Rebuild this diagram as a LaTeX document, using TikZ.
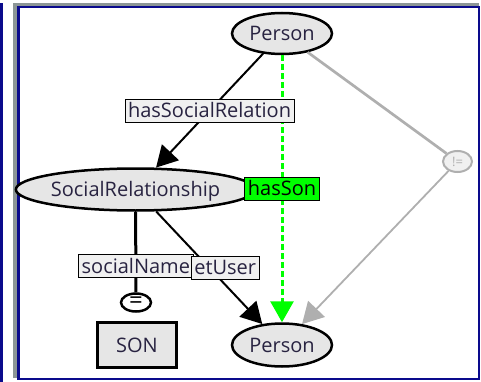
\documentclass[tikz,border=0pt]{standalone}
\usepackage{fontspec}
\setmainfont{Open Sans}
\usetikzlibrary{shapes.geometric,arrows.meta}
\definecolor{frameblue}{RGB}{10,10,140}
\definecolor{framegray}{RGB}{140,150,150}
\definecolor{nodefill}{RGB}{230,230,230}
\definecolor{lblfill}{RGB}{240,240,240}
\definecolor{txtcol}{RGB}{40,35,65}
\definecolor{neqgray}{RGB}{175,175,175}
\definecolor{songreen}{RGB}{0,255,0}
\begin{document}
\begin{tikzpicture}[x=1pt, y=-1pt,
    font=\fontsize{20}{23}\selectfont,
    cls/.style={ellipse, draw, line width=2.5pt, fill=nodefill, text=txtcol,
      inner sep=0pt, text height=14pt, text depth=0pt},
    lbl/.style={draw, solid, line width=1pt, fill=lblfill, text=txtcol, inner xsep=3pt,
      inner ysep=0pt, minimum height=23pt, text height=14pt, text depth=0pt},
    rel/.style={line width=2pt, -{Triangle[length=21pt,width=23pt]}}]
    \useasboundingbox (0,0) rectangle (481,382);
    % Rahmen
    \fill[frameblue] (0,3) rectangle (3,382);
    \fill[framegray] (13,3) rectangle (17,378);
    \fill[framegray] (13,3) rectangle (479,6);
    \draw[frameblue, line width=2.5pt] (18.25,7.25) rectangle (478.75,378.75);
    % Klassen
    \node[cls, minimum width=100pt, minimum height=41pt] (person1) at (282,33.5) {Person};
    \node[cls, minimum width=206pt, minimum height=42pt] (socrel) at (135.5,189.5) {SocialRelationship};
    \node[cls, minimum width=100pt, minimum height=43pt] (person2) at (282,345) {Person};
    \node[draw, line width=3pt, fill=nodefill, text=txtcol, minimum width=79pt,
      minimum height=45pt] (son) at (137,345) {SON};
    % Bedingungen
    \node[ellipse, draw, line width=2.5pt, fill=white, minimum width=30pt, minimum height=18pt,
      inner sep=0pt, font=\fontsize{24}{24}\selectfont] (eq) at (136,302.5) {=};
    \node[ellipse, draw=neqgray, line width=2pt, fill=lblfill, text=neqgray, minimum width=29pt,
      minimum height=21pt, inner sep=0pt, font=\fontsize{13}{14}\selectfont] (neq) at (457.5,161.5) {!=};
    % abgeleitete Relation
    \draw[rel, songreen, line width=3pt, dash pattern=on 6pt off 3pt] (person1) --
      node[lbl, fill=songreen, text=black, draw=black] {hasSon} (person2);
    % Relationen
    \draw[rel] (person1) -- node[lbl] {hasSocialRelation} (socrel);
    \draw[line width=3pt] (socrel) -- node[lbl, pos=0.68] {socialName} (eq);
    \draw[rel] (socrel) -- node[lbl, xshift=16pt] {etUser} (person2);
    \draw[neqgray, line width=2.7pt] (person1) -- (neq);
    \draw[rel, neqgray, line width=1.8pt] (neq) -- (person2);
\end{tikzpicture}
\end{document}
